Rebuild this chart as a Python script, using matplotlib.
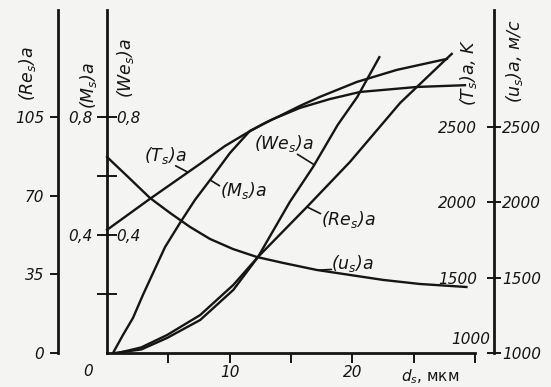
import numpy as np
import matplotlib
matplotlib.use("Agg")
import matplotlib.pyplot as plt
from matplotlib.transforms import blended_transform_factory

# ---- data: particle parameters vs. particle diameter d_s (µm) ----
d_T = [0.0, 3.5, 7.58, 9.62, 11.41, 12.88, 14.1, 15.73, 17.36, 20.37, 23.63, 27.71]
T_s = [1817, 2023, 2255, 2374, 2461, 2527, 2574, 2640, 2700, 2799, 2879, 2952]   # K

d_u = [0.0, 1.71, 3.5, 5.13, 6.76, 8.39, 10.27, 12.22, 14.34, 17.1, 19.8, 22.5, 25.5, 29.3]
u_s = [2301, 2169, 2029, 1930, 1837, 1757, 1690, 1637, 1598, 1551, 1518, 1485, 1458, 1438]  # m/s

d_M = [0.49, 1.30, 2.12, 2.93, 3.75, 4.73, 5.95, 7.17, 8.39, 10.02, 11.65,
       13.53, 15.73, 18.17, 20.62, 25.26, 29.18]
M_s = [0.0, 0.061, 0.119, 0.197, 0.271, 0.359, 0.441, 0.519, 0.586, 0.678, 0.753,
       0.793, 0.831, 0.861, 0.885, 0.902, 0.908]

d_We = [0.65, 2.8, 4.9, 7.6, 10.3, 12.3, 14.9, 16.8, 18.8, 20.4, 22.2]
We_s = [0.0, 0.012, 0.051, 0.112, 0.214, 0.325, 0.512, 0.631, 0.773, 0.868, 1.003]

d_Re = [0.9, 2.8, 4.9, 7.6, 10.3, 12.3, 16.3, 19.8, 23.9, 27.4, 28.1]
Re_s = [0.0, 2.5, 8.0, 16.9, 30.3, 42.7, 65.0, 85.0, 111.3, 129.5, 133.1]

x_ticks = [5, 10, 15, 20, 25, 30]
x_labels = ["", "10", "", "20", "", ""]
mw_ticks = [0.2, 0.4, 0.6, 0.8]
mw_labels = ["", "0,4", "", "0,8"]
re_ticks = [0, 35, 70, 105]
tu_ticks = [1000, 1500, 2000, 2500]

BG = "#f4f4f2"
INK = "#151515"
LABEL_SIZE = 12.5

plt.rcParams.update({
    "font.family": "DejaVu Sans",
    "font.style": "italic",
    "font.size": 11,
    "mathtext.fontset": "dejavusans",
    "text.color": INK,
    "xtick.color": INK,
    "ytick.color": INK,
    "axes.edgecolor": INK,
})

fig = plt.figure(figsize=(5.51, 3.87), dpi=100, facecolor=BG)
ax = fig.add_axes([0.1942, 0.0879, 0.6679, 0.8863])
ax.set_facecolor("none")
ax.set_xlim(0, 30)
ax.set_ylim(0, 1.163)

re_top = 105 / 0.8 * 1.163
tu_top = 1000 + 1500 / 0.6589

# main axes: M and We scale on the left spine, d_s along the bottom
for s in ("top", "right"):
    ax.spines[s].set_visible(False)
ax.spines["left"].set_linewidth(2.0)
ax.spines["bottom"].set_linewidth(2.0)
ax.set_xticks(x_ticks)
ax.set_xticklabels(x_labels)
ax.set_yticks(mw_ticks)
ax.set_yticklabels(mw_labels)
ax.tick_params(axis="y", direction="inout", length=15, width=1.4, pad=3)
ax.tick_params(axis="x", direction="out", length=7, width=1.4, pad=2)

# We labels to the right of the same spine
ax_we = ax.twinx()
ax_we.set_ylim(ax.get_ylim())
for s in ax_we.spines.values():
    s.set_visible(False)
ax_we.spines["right"].set_position(("axes", 0.0))
ax_we.set_yticks([0.4, 0.8])
ax_we.set_yticklabels(["0,4", "0,8"])
ax_we.tick_params(axis="y", length=0, pad=7)

# Re scale on a separate spine further left
ax_re = ax.twinx()
ax_re.set_ylim(0, re_top)
for s in ax_re.spines.values():
    s.set_visible(False)
ax_re.spines["left"].set_visible(True)
ax_re.spines["left"].set_position(("axes", -0.133))
ax_re.spines["left"].set_linewidth(2.0)
ax_re.yaxis.set_ticks_position("left")
ax_re.yaxis.set_label_position("left")
ax_re.set_yticks(re_ticks)
ax_re.set_yticklabels([str(v) for v in re_ticks])
ax_re.tick_params(axis="y", direction="out", length=6, width=1.4, pad=4)

# T and u scale on a spine on the right
ax_t = ax.twinx()
ax_t.set_ylim(1000, tu_top)
for s in ax_t.spines.values():
    s.set_visible(False)
ax_t.spines["right"].set_visible(True)
ax_t.spines["right"].set_position(("axes", 1.0516))
ax_t.spines["right"].set_linewidth(2.0)
ax_t.set_yticks(tu_ticks)
ax_t.set_yticklabels([str(v) for v in tu_ticks])
ax_t.tick_params(axis="y", direction="inout", length=10, width=1.4, pad=1)

ax_tl = ax.twinx()
ax_tl.set_ylim(ax_t.get_ylim())
for s in ax_tl.spines.values():
    s.set_visible(False)
ax_tl.spines["left"].set_position(("axes", 1.0516))
ax_tl.yaxis.set_ticks_position("left")
ax_tl.set_yticks(tu_ticks[1:])
ax_tl.set_yticklabels([str(v) for v in tu_ticks[1:]])
ax_tl.tick_params(axis="y", length=0, pad=12, labelleft=True, labelright=False)
ax_tl.annotate("1000", xy=(1.0516, 1000),
               xycoords=blended_transform_factory(ax.transAxes, ax_t.transData),
               xytext=(-4, 13), textcoords="offset pixels", ha="right", va="center")

# curves
lw = 1.7
ax_t.plot(d_T, T_s, color=INK, lw=lw, clip_on=False, solid_joinstyle="round")
ax_t.plot(d_u, u_s, color=INK, lw=lw, clip_on=False, solid_joinstyle="round")
ax.plot(d_M, M_s, color=INK, lw=lw, clip_on=False, solid_joinstyle="round")
ax.plot(d_We, We_s, color=INK, lw=lw, clip_on=False, solid_joinstyle="round")
ax_re.plot(d_Re, Re_s, color=INK, lw=lw, clip_on=False, solid_joinstyle="round")


def tag(axis, text, d, xs, ys, offset, relpos):
    y = np.interp(d, xs, ys)
    axis.annotate(text, xy=(d, y), xytext=offset, textcoords="offset pixels",
                  ha="center", va="center", fontsize=LABEL_SIZE,
                  arrowprops=dict(arrowstyle="-", color=INK, lw=1.2,
                                  shrinkA=0, shrinkB=0, patchA=None,
                                  relpos=relpos))


tag(ax_t, "(T$_s$)a", 6.6, d_T, T_s, (-23, 17), (0.75, 0.0))
tag(ax, "(M$_s$)a", 8.4, d_M, M_s, (33, -11), (0.0, 0.75))
tag(ax, "(We$_s$)a", 16.9, d_We, We_s, (-30, 21), (0.72, 0.0))
tag(ax_re, "(Re$_s$)a", 16.3, d_Re, Re_s, (41, -13), (0.0, 0.8))
tag(ax_t, "(u$_s$)a", 17.2, d_u, u_s, (35, 7), (0.0, 0.2))

# axis titles
titles = [
    ("(Re$_s$)a", -0.2147, 0.816),
    ("(M$_s$)a", -0.0516, 0.781),
    ("(We$_s$)a", 0.0516, 0.831),
    ("(T$_s$)a, K", 0.981, 0.819),
    ("(u$_s$)a, м/с", 1.106, 0.851),
]
for txt, xa, ya in titles:
    ax.text(xa, ya, txt, transform=ax.transAxes, rotation=90,
            ha="center", va="center", fontsize=LABEL_SIZE)

ax.annotate("0", xy=(0, 0), xytext=(-19, -19), textcoords="offset pixels",
            ha="center", va="center", annotation_clip=False)
ax.text(0.878, -0.07, "$d_s$, мкм", transform=ax.transAxes,
        ha="center", va="center", fontstyle="normal")

fig.savefig("out.png", dpi=100, facecolor=BG)
